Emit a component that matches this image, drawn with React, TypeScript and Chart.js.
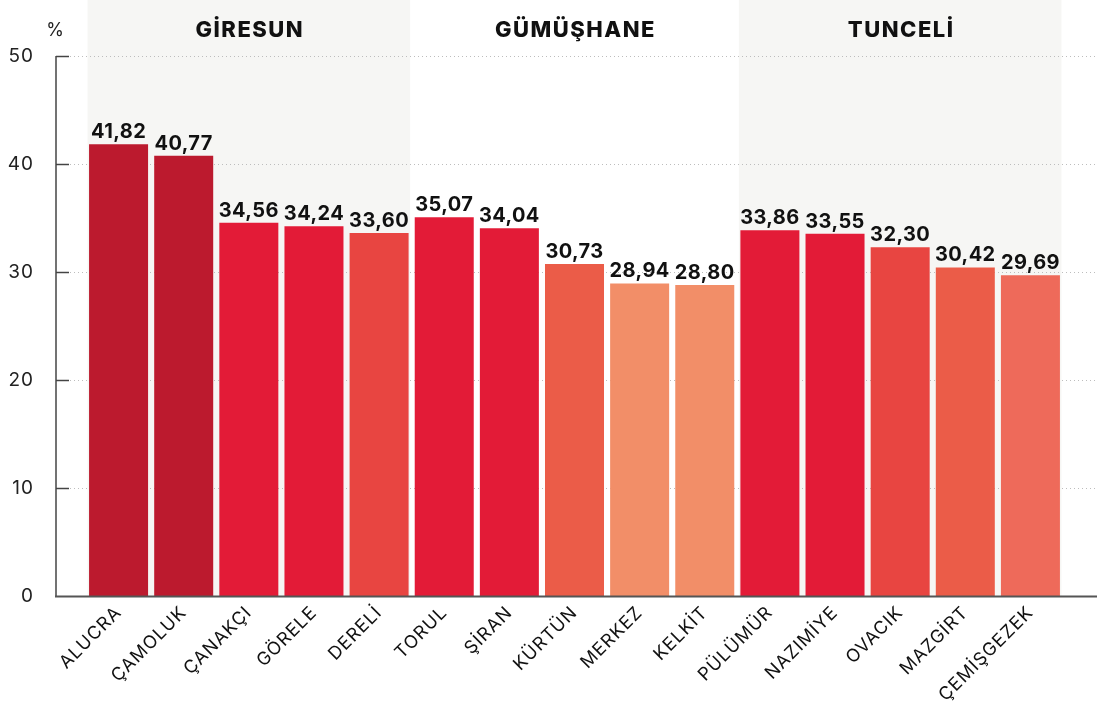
import React, { useEffect, useRef } from "react";
import { Chart, registerables } from "chart.js";

Chart.register(...registerables);

const districts = [
  "ALUCRA", "ÇAMOLUK", "ÇANAKÇI", "GÖRELE", "DERELİ",
  "TORUL", "ŞİRAN", "KÜRTÜN", "MERKEZ", "KELKİT",
  "PÜLÜMÜR", "NAZIMİYE", "OVACIK", "MAZGİRT", "ÇEMİŞGEZEK",
];
const values = [
  41.82, 40.77, 34.56, 34.24, 33.6,
  35.07, 34.04, 30.73, 28.94, 28.8,
  33.86, 33.55, 32.3, 30.42, 29.69,
];
const barColors = [
  "#bc1a2e", "#bc1a2e", "#e31b37", "#e31b37", "#e84541",
  "#e31b37", "#e31b37", "#eb5c48", "#f28e68", "#f28e68",
  "#e31b37", "#e31b37", "#e84541", "#eb5c48", "#ee6a5a",
];
const groupNames = ["GİRESUN", "GÜMÜŞHANE", "TUNCELİ"];
const groupFirst = [0, 5, 10];
const groupLast = [4, 9, 14];
const groupShaded = [true, false, true];
const yTickValues = [0, 10, 20, 30, 40, 50];

const FONT = "Inter, 'Noto Sans', sans-serif";

const decorPlugin = {
  id: "decor",
  beforeDraw(chart: any) {
    (chart.ctx as any).letterSpacing = "1px";
  },
  beforeDatasetsDraw(chart: any) {
    const ctx = chart.ctx as CanvasRenderingContext2D;
    (ctx as any).letterSpacing = "0px";
    const meta = chart.getDatasetMeta(0);
    const y = chart.scales.y;
    const base = y.getPixelForValue(0);
    const axisX = 56;
    ctx.save();
    groupNames.forEach((name, g) => {
      const a: any = meta.data[groupFirst[g]];
      const b: any = meta.data[groupLast[g]];
      const left = a.x - a.width / 2 - 1.5;
      const right = b.x + b.width / 2 + 1.5;
      if (groupShaded[g]) {
        ctx.fillStyle = "#f6f6f4";
        ctx.fillRect(left, 0, right - left, base);
      }
      ctx.fillStyle = "#111";
      ctx.font = `800 22px ${FONT}`;
      (ctx as any).letterSpacing = "1.5px";
      ctx.textAlign = "center";
      ctx.textBaseline = "middle";
      ctx.fillText(name, (left + right) / 2 + 1, 30);
      (ctx as any).letterSpacing = "0px";
    });
    yTickValues.forEach((v) => {
      const py = Math.round(y.getPixelForValue(v)) + 0.5;
      if (v !== 0) {
        ctx.strokeStyle = "#bdbdbd";
        ctx.lineWidth = 1;
        ctx.setLineDash([1, 3]);
        ctx.beginPath();
        ctx.moveTo(70, py);
        ctx.lineTo(chart.width, py);
        ctx.stroke();
        ctx.setLineDash([]);
        ctx.strokeStyle = "#444";
        ctx.lineWidth = 1.5;
        ctx.beginPath();
        ctx.moveTo(axisX, py);
        ctx.lineTo(69, py);
        ctx.stroke();
      }
    });
    ctx.strokeStyle = "#444";
    ctx.lineWidth = 1.5;
    ctx.beginPath();
    ctx.moveTo(axisX, Math.round(y.getPixelForValue(50)));
    ctx.lineTo(axisX, base);
    ctx.stroke();
    ctx.fillStyle = "#222";
    ctx.font = `18px ${FONT}`;
    ctx.textAlign = "center";
    ctx.textBaseline = "middle";
    ctx.fillText("%", 55, 31);
    ctx.restore();
  },
  afterDatasetsDraw(chart: any) {
    const ctx = chart.ctx as CanvasRenderingContext2D;
    const meta = chart.getDatasetMeta(0);
    const y = chart.scales.y;
    const base = Math.round(y.getPixelForValue(0)) + 0.5;
    ctx.save();
    ctx.strokeStyle = "#555";
    ctx.lineWidth = 2;
    ctx.beginPath();
    ctx.moveTo(55, base);
    ctx.lineTo(chart.width, base);
    ctx.stroke();
    ctx.fillStyle = "#111";
    ctx.font = `bold 20px ${FONT}`;
    (ctx as any).letterSpacing = "0.4px";
    ctx.textAlign = "center";
    ctx.textBaseline = "alphabetic";
    meta.data.forEach((el: any, i: number) => {
      ctx.fillText(values[i].toFixed(2).replace(".", ","), el.x, el.y - 6);
    });
    (ctx as any).letterSpacing = "0px";
    ctx.restore();
  },
};

export default function App() {
  const ref = useRef<HTMLCanvasElement | null>(null);
  useEffect(() => {
    document.body.style.margin = "0";
    const canvas = ref.current;
    if (!canvas) return;
    const chart = new Chart(canvas, {
      type: "bar",
      data: {
        labels: districts,
        datasets: [
          {
            data: values,
            backgroundColor: barColors,
            borderWidth: 0,
            barPercentage: 0.906,
            categoryPercentage: 1,
          },
        ],
      },
      options: {
        responsive: false,
        animation: false,
        layout: { padding: { top: 56, right: 34, bottom: 0, left: 0 } },
        plugins: {
          legend: { display: false },
          tooltip: { enabled: false },
        },
        scales: {
          x: {
            offset: true,
            grid: { display: false, drawTicks: false },
            border: { display: false },
            ticks: {
              minRotation: 45,
              maxRotation: 45,
              autoSkip: false,
              padding: 6,
              color: "#111",
              font: { family: FONT, size: 18, weight: "400" },
            },
            afterFit: (s: any) => {
              s.height = 108;
            },
          },
          y: {
            min: 0,
            max: 50,
            grid: { display: false, drawTicks: false },
            border: { display: false },
            ticks: {
              stepSize: 10,
              padding: 52,
              color: "#222",
              font: { family: FONT, size: 19 },
            },
            afterFit: (s: any) => {
              s.width = 86;
              s.paddingTop = 10;
              s.paddingBottom = 10;
            },
          },
        },
      },
      plugins: [decorPlugin],
    });
    return () => chart.destroy();
  }, []);
  return (
    <div style={{ width: 1097, height: 704 }}>
      <canvas ref={ref} width={1097} height={704} />
    </div>
  );
}
